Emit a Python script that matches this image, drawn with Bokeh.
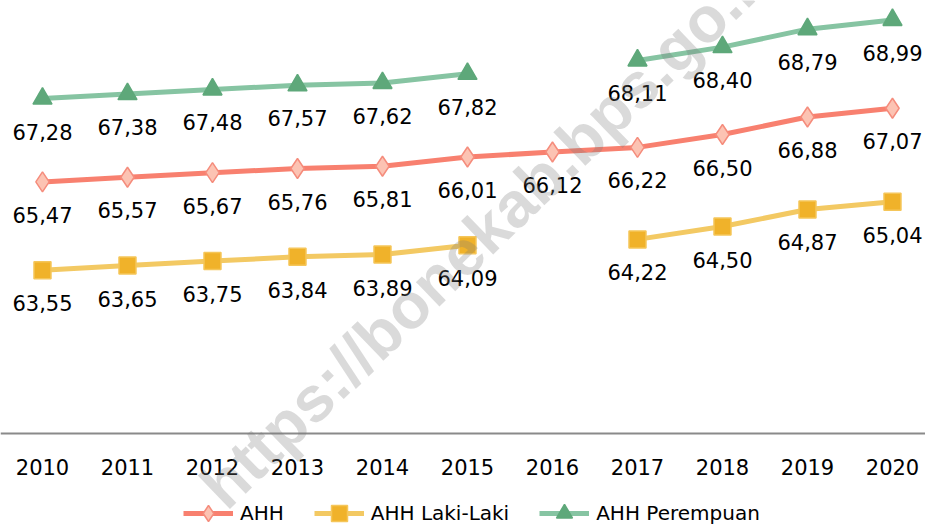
from bokeh.plotting import figure
from bokeh.models import Range1d, FixedTicker, Legend, LegendItem, Label, ColumnDataSource
from bokeh.core.properties import value
from bokeh.embed import file_html
from bokeh.resources import INLINE
import math

years = [2010, 2011, 2012, 2013, 2014, 2015, 2016, 2017, 2018, 2019, 2020]
ahh = [65.47, 65.57, 65.67, 65.76, 65.81, 66.01, 66.12, 66.22, 66.50, 66.88, 67.07]
ahh_laki = [63.55, 63.65, 63.75, 63.84, 63.89, 64.09, float("nan"), 64.22, 64.50, 64.87, 65.04]
ahh_perempuan = [67.28, 67.38, 67.48, 67.57, 67.62, 67.82, float("nan"), 68.11, 68.40, 68.79, 68.99]
series_names = ["AHH", "AHH Laki-Laki", "AHH Perempuan"]
axis_base = 60

FONT = "DejaVu Sans"

def fmt(v):
    return "" if math.isnan(v) else f"{v:.2f}".replace(".", ",")

W, H = 925, 525
p = figure(width=W, height=H, output_backend="svg", toolbar_location=None,
           x_range=Range1d(2009.506, 2009.506 + W / 85), y_range=Range1d(60 - (H - 433) / 46, 60 + 433 / 46),
           min_border_top=0, min_border_left=0, min_border_right=0, min_border_bottom=0)
p.outline_line_color = None
p.xgrid.visible = False
p.ygrid.visible = False
p.yaxis.visible = False
p.background_fill_color = "white"

ax = p.xaxis[0]
ax.fixed_location = axis_base
ax.ticker = FixedTicker(ticks=years)
ax.axis_line_color = "#8a8a8a"
ax.axis_line_width = 2
ax.major_tick_line_color = None
ax.minor_tick_line_color = None
ax.major_label_text_font = FONT
ax.major_label_text_font_size = "21px"
ax.major_label_text_color = "black"
ax.major_label_standoff = 19

styles = [
    (ahh, "#F8806F", "diamond", "#FCC3B3", "#F58C7C", 20),
    (ahh_laki, "#F3C963", "square", "#F0B22A", "#F5C65A", 17),
    (ahh_perempuan, "#86C4A2", "triangle", "#5EA87A", "#5EA87A", 19),
]

items = []
for (vals, lc, mk, fc, mlc, sz), name in zip(styles, series_names):
    src = ColumnDataSource(dict(x=years, y=vals, lab=[fmt(v) for v in vals]))
    r1 = p.line("x", "y", source=src, line_color=lc, line_width=5)
    r2 = p.scatter("x", "y", source=src, marker=mk, size=sz, fill_color=fc,
                   line_color=mlc, line_width=1.5)
    p.text("x", "y", text="lab", source=src, text_font=value(FONT), text_font_size="21px",
           text_color="black", text_align="center", text_baseline="middle", y_offset=33)
    items.append(LegendItem(label=name, renderers=[r1, r2]))

legend = Legend(items=items, orientation="horizontal", location=(183, -8),
                glyph_width=50, glyph_height=40, label_standoff=7, spacing=30,
                padding=0, margin=0, border_line_color=None, background_fill_alpha=0,
                label_text_font=FONT, label_text_font_size="20px", label_text_color="black")
p.add_layout(legend, "center")

wm = Label(x=2011.988, y=58.64, text="https://bonekab.bps.go.id", angle=44, angle_units="deg",
           text_font="Liberation Sans", text_font_style="bold", text_font_size="64px",
           text_color="#7a7a7a", text_alpha=0.28, text_align="left", text_baseline="middle")
p.add_layout(wm)

open("out.html", "w").write(file_html(p, INLINE))
